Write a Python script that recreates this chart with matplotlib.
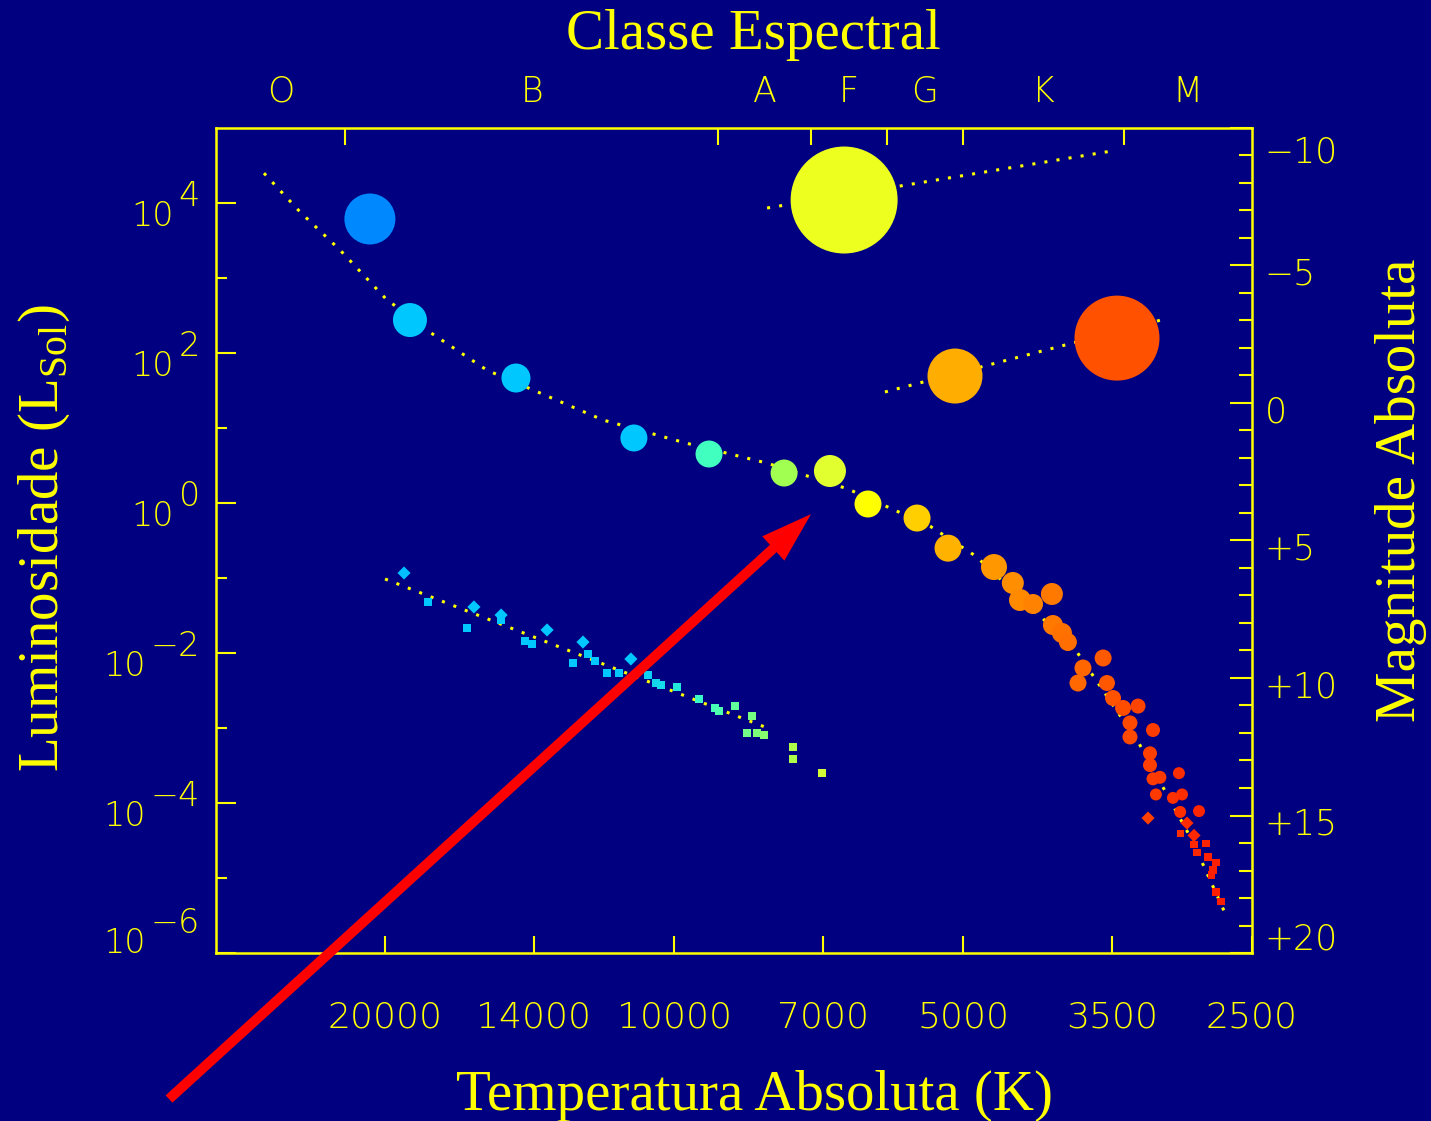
import numpy as np
import matplotlib.pyplot as plt
from matplotlib.colors import LinearSegmentedColormap
from matplotlib.ticker import NullLocator

plt.rcParams['mathtext.fontset'] = 'custom'
plt.rcParams['mathtext.rm'] = 'Liberation Serif'

NAVY = '#000080'
YELLOW = '#ffff00'
SERIF = 'Liberation Serif'
SANS = 'DejaVu Sans'
SANS_WEIGHT = 'light'

# sequencia principal (circulos)
ms_temp = [18840, 14610, 11010, 9195, 7680, 6880, 6280, 5583, 5183, 4642,
           4437, 4361, 4227, 4040, 4030, 3944, 3888, 3573, 3750, 3795,
           3540, 3489, 3406, 3286, 3350, 3350, 3170, 3193, 3193, 3170,
           3118, 2979, 3148, 3022, 2957, 2970, 2839]
ms_lum = [275, 46.4, 7.36, 4.50, 2.51, 2.67, 0.97, 0.63, 0.25, 0.140,
          0.0858, 0.0509, 0.0450, 0.0612, 0.0236, 0.0185, 0.0140, 0.00858, 0.00631, 0.00398,
          0.00398, 0.00251, 0.00185, 0.00196, 0.00117, 7.6e-4, 9.4e-4, 4.6e-4, 3.2e-4, 2.1e-4,
          2.2e-4, 2.5e-4, 1.3e-4, 1.17e-4, 1.3e-4, 7.6e-5, 7.8e-5]
ms_diam = [34, 29, 27, 27, 27, 32, 27, 27, 27, 26,
           22, 22, 20, 22, 20, 20, 18, 17, 17, 17,
           16, 16, 16, 15, 15, 15, 14, 14, 14, 13,
           13, 12, 12, 12, 12, 12, 12]

# anas vermelhas (losangos e quadrados)
rd_dia_temp = [3208, 2922, 2873]
rd_dia_lum = [6.3e-5, 5.4e-5, 3.7e-5]
rd_sq_temp = [2970, 2873, 2791, 2852, 2779, 2725, 2744, 2757, 2725, 2693]
rd_sq_lum = [3.9e-5, 2.8e-5, 2.9e-5, 2.2e-5, 1.9e-5, 1.6e-5, 1.28e-5, 1.1e-5, 6.5e-6, 4.9e-6]

# gigantes e supergigantes
giant_temp = [20740, 6650, 5097, 3456]
giant_lum = [6120, 10960, 49.3, 158]
giant_diam = [51, 107, 55, 85]

# anas brancas
wd_dia_temp = [19110, 16160, 15140, 13560, 12440, 11090]
wd_dia_lum = [0.1166, 0.0411, 0.0321, 0.0203, 0.0140, 0.00832]
wd_sq_temp = [18040, 16430, 15140, 14290, 14060, 12740, 12290, 12090, 11740, 11410,
              10640, 10440, 10320, 9930, 9420, 9070, 8980, 8640, 8295, 8395,
              8196, 8060, 7518, 7518, 7013]
wd_sq_lum = [0.0479, 0.0216, 0.0275, 0.01445, 0.0132, 0.00736, 0.0097, 0.00782, 0.00541, 0.00541,
             0.00509, 0.00398, 0.00374, 0.00352, 0.00244, 0.00185, 0.00169, 0.00196, 0.00145, 8.6e-4,
             8.6e-4, 8.1e-4, 5.6e-4, 3.9e-4, 2.5e-4]

# linhas pontilhadas
ms_line_temp = [26740, 24520, 22280, 19950, 17910, 15660, 13560, 11860, 9720,
                8000, 6590, 5410, 4850, 3830, 3280, 2887, 2655]
ms_line_lum = [2.5e4, 7590, 2360, 525, 185, 59, 26.7, 12.8, 6.3,
               3.4, 1.54, 0.49, 0.196, 0.0117, 6.3e-4, 3.2e-5, 3.0e-6]
sg_line_temp = [8000, 3498]
sg_line_lum = [8570, 49400]
gb_line_temp = [6030, 3081]
gb_line_lum = [30.2, 284]
wd_line_temp = [20000, 8040]
wd_line_lum = [0.097, 1.03e-3]

# classes espectrais: limites e letras
class_bounds = [22000, 9000, 7200, 6000, 5000, 3400]
class_names = ['O', 'B', 'A', 'F', 'G', 'K', 'M']

temp_ticks = [20000, 14000, 10000, 7000, 5000, 3500, 2500]
temp_labels = ['20000', '14000', '10000', '7000', '5000', '3500', '2500']
lum_exps = [4, 2, 0, -2, -4, -6]
mag_ticks = [-10, -5, 0, 5, 10, 15, 20]
mag_labels = ['\u221210', '\u22125', '0', '+5', '+10', '+15', '+20']

T_MIN, T_MAX = 2500, 30000

# cor da estrela em funcao da temperatura
cnodes_t = [2650, 3000, 3450, 3900, 4400, 4640, 5150, 5580, 6280, 6880,
            7680, 9195, 11000, 19000, 20700]
cnodes_c = ['#ff1a00', '#ff3000', '#ff5000', '#ff7000', '#ff8c00', '#ff9800',
            '#ffb000', '#ffd000', '#ffff00', '#e0ff30', '#a0ff50', '#40ffc0',
            '#00c8ff', '#00c8ff', '#0088ff']
lo, hi = np.log10(cnodes_t[0]), np.log10(cnodes_t[-1])
star_cmap = LinearSegmentedColormap.from_list(
    'estrelas', [((np.log10(t) - lo) / (hi - lo), c) for t, c in zip(cnodes_t, cnodes_c)])


def star_colors(temps):
    x = (np.log10(np.asarray(temps, dtype=float)) - lo) / (hi - lo)
    return star_cmap(np.clip(x, 0, 1))


def area(diam_px):
    return (np.asarray(diam_px) * 0.72) ** 2


fig = plt.figure(figsize=(14.31, 11.21), dpi=100, facecolor=NAVY)
ax = fig.add_axes([216 / 1431, 168 / 1121, 1036 / 1431, 825 / 1121])
ax.set_facecolor(NAVY)
ax.set_xscale('log')
ax.set_yscale('log')
ax.set_xlim(T_MAX, T_MIN)
ax.set_ylim(1e-6, 1e5)

dots = dict(color=YELLOW, lw=2.2, linestyle=(0, (1, 3)), zorder=2)
ax.plot(ms_line_temp, ms_line_lum, **dots)
ax.plot(sg_line_temp, sg_line_lum, **dots)
ax.plot(gb_line_temp, gb_line_lum, **dots)
ax.plot(wd_line_temp, wd_line_lum, **dots)

ax.scatter(giant_temp, giant_lum, s=area(giant_diam), c=star_colors(giant_temp),
           marker='o', linewidths=0, zorder=3)
ax.scatter(ms_temp, ms_lum, s=area(ms_diam), c=star_colors(ms_temp),
           marker='o', linewidths=0, zorder=3)
ax.scatter(rd_dia_temp, rd_dia_lum, s=45, c=star_colors(rd_dia_temp),
           marker='D', linewidths=0, zorder=3)
ax.scatter(rd_sq_temp, rd_sq_lum, s=28, c=star_colors(rd_sq_temp),
           marker='s', linewidths=0, zorder=3)
ax.scatter(wd_dia_temp, wd_dia_lum, s=45, c=star_colors(wd_dia_temp),
           marker='D', linewidths=0, zorder=3)
ax.scatter(wd_sq_temp, wd_sq_lum, s=33, c=star_colors(wd_sq_temp),
           marker='s', linewidths=0, zorder=3)

# moldura e marcas
for sp in ax.spines.values():
    sp.set_color(YELLOW)
    sp.set_linewidth(1.8)

ax.set_xticks(temp_ticks, labels=temp_labels)
ax.xaxis.set_minor_locator(NullLocator())
ax.tick_params(axis='x', which='major', direction='in', length=12.2, width=1.5,
               color=YELLOW, labelcolor=YELLOW, labelsize=26, pad=34)
for lab in ax.get_xticklabels():
    lab.set_family(SANS)
    lab.set_weight(SANS_WEIGHT)

ax.set_yticks([10.0 ** e for e in lum_exps], labels=[''] * len(lum_exps))
ax.set_yticks([10.0 ** e for e in range(-5, 5, 2)], minor=True)
ax.tick_params(axis='y', which='major', direction='in', length=14.4, width=1.5,
               color=YELLOW, labelleft=False)
ax.tick_params(axis='y', which='minor', direction='in', length=8, width=1.5,
               color=YELLOW, labelleft=False)

# rotulos 10^n
lab_kw = dict(fontsize=24, color=YELLOW, family=SANS, weight=SANS_WEIGHT,
              textcoords='offset points', annotation_clip=False)
for e in lum_exps:
    lift = 16.5 if e == lum_exps[-1] else 0
    exp_txt = ax.annotate(str(e).replace('-', '\u2212'), xy=(0, 10.0 ** e),
                          xycoords=ax.get_yaxis_transform(), xytext=(-11.5, -2.2 + lift),
                          ha='right', va='baseline', **lab_kw)
    ax.annotate('10', xy=(0, 10.0 ** e), xycoords=(exp_txt, ax.get_yaxis_transform()),
                xytext=(-3.6, 2.2 + lift), ha='right', va='top', **lab_kw)

# eixo superior: classes espectrais
top = ax.secondary_xaxis('top')
top.spines['top'].set_visible(False)
top.set_xticks(class_bounds, labels=[''] * len(class_bounds))
edges = [T_MAX] + class_bounds + [T_MIN]
centers = [np.sqrt(a * b) for a, b in zip(edges[:-1], edges[1:])]
top.set_xticks(centers, labels=class_names, minor=True)
top.tick_params(axis='x', which='major', direction='in', length=12.2, width=1.5,
                color=YELLOW)
top.tick_params(axis='x', which='minor', length=0, pad=13.7, labelsize=25,
                labelcolor=YELLOW)
for lab in top.get_xticklabels(minor=True):
    lab.set_family(SANS)
    lab.set_weight(SANS_WEIGHT)

# eixo direito: magnitude absoluta
ax2 = ax.twinx()
ax2.set_ylim(20, -10)
for sp in ax2.spines.values():
    sp.set_visible(False)
ax2.set_yticks(mag_ticks, labels=[''] * len(mag_ticks))
ax2.set_yticks(range(-10, 21), minor=True)
ax2.tick_params(axis='y', which='major', direction='in', length=15.8, width=1.5,
                color=YELLOW)
ax2.tick_params(axis='y', which='minor', direction='in', length=9.4, width=1.5,
                color=YELLOW)
for m, txt in zip(mag_ticks, mag_labels):
    dy = -6.5
    if m == mag_ticks[0]:
        dy = -18
    elif m == mag_ticks[-1]:
        dy = 9.4
    ax2.annotate(txt, xy=(1, m), xycoords=ax2.get_yaxis_transform(), xytext=(9, dy),
                 textcoords='offset points', ha='left', va='center', fontsize=25,
                 color=YELLOW, family=SANS, weight=SANS_WEIGHT, annotation_clip=False)

# titulos
fig.text(753 / 1431, 1 - 49 / 1121, 'Classe Espectral', ha='center', va='baseline',
         fontsize=41, family=SERIF, color=YELLOW)
fig.text(755 / 1431, 1 - 1110 / 1121, 'Temperatura Absoluta (K)', ha='center',
         va='baseline', fontsize=41, family=SERIF, color=YELLOW)
fig.text(58 / 1431, 1 - 538 / 1121, r'Luminosidade (L$_{\mathrm{Sol}}$)', rotation=90,
         rotation_mode='anchor', ha='center', va='baseline', fontsize=41,
         family=SERIF, color=YELLOW)
fig.text(1415 / 1431, 1 - 490 / 1121, 'Magnitude Absoluta', rotation=90,
         rotation_mode='anchor', ha='center', va='baseline', fontsize=41,
         family=SERIF, color=YELLOW)

# seta apontando para o Sol
ax2.annotate('', xy=(7200, 0.71), xycoords=ax.transData,
             xytext=(169 / 1431, 22 / 1121), textcoords='figure fraction',
             arrowprops=dict(arrowstyle='simple,head_length=3.67,head_width=2.37,tail_width=0.72',
                             mutation_scale=10, fc='#ff0000', ec='none',
                             shrinkA=0, shrinkB=0),
             annotation_clip=False, zorder=10)

fig.savefig('out.png', dpi=100, facecolor=fig.get_facecolor())
